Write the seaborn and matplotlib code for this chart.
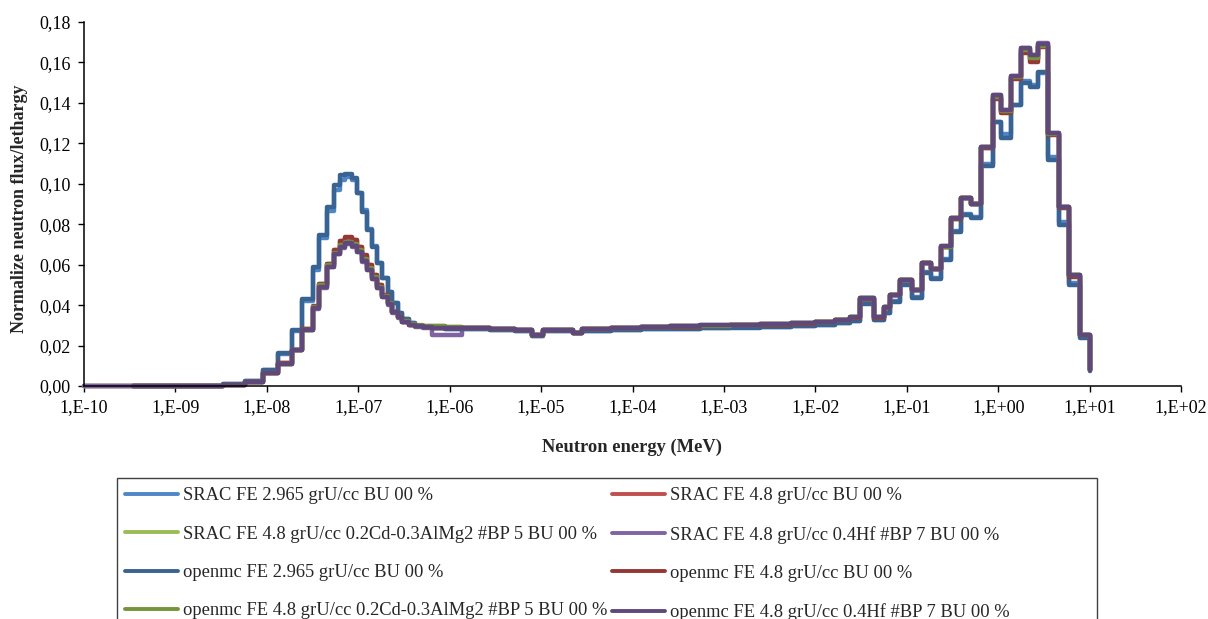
import matplotlib
matplotlib.use('Agg')
import matplotlib.pyplot as plt
from matplotlib.lines import Line2D
from matplotlib.patches import Rectangle
from matplotlib.ticker import FixedLocator, NullLocator, FuncFormatter
import numpy as np
import pandas as pd
import seaborn as sns

# group boundaries, log10(E / MeV); last entry is the 10 MeV end point
log_edges = [-10.00, -9.46, -8.99, -8.48, -8.24, -8.04, -7.88, -7.73, -7.61, -7.50,
             -7.43, -7.34, -7.27, -7.20, -7.14, -7.07, -7.01, -6.96, -6.90, -6.85,
             -6.79, -6.74, -6.68, -6.63, -6.57, -6.52, -6.45, -6.38, -6.29, -6.19,
             -6.05, -5.86, -5.56, -5.28, -5.10, -4.98, -4.65, -4.55, -4.24, -3.91,
             -3.59, -3.26, -2.93, -2.60, -2.27, -2.00, -1.78, -1.62, -1.51, -1.36,
             -1.25, -1.18, -1.07, -0.94, -0.83, -0.74, -0.63, -0.52, -0.41, -0.30,
             -0.19, -0.06, 0.03, 0.14, 0.25, 0.35, 0.44, 0.55, 0.66, 0.77,
             0.90, 1.00]

# normalized flux per lethargy (value of each group, last = end point)
srac_2965 = [0.0, 0.0, 0.0002, 0.001, 0.0027, 0.0078, 0.016, 0.027, 0.042, 0.0575,
             0.073, 0.0865, 0.097, 0.102, 0.1035, 0.102, 0.0955, 0.087, 0.0775, 0.069,
             0.061, 0.0535, 0.0465, 0.041, 0.036, 0.033, 0.031, 0.0298, 0.029, 0.0288,
             0.0283, 0.0281, 0.0276, 0.0271, 0.0249, 0.0271, 0.0261, 0.0273, 0.0277, 0.0281,
             0.0284, 0.0287, 0.029, 0.0293, 0.0297, 0.0304, 0.0313, 0.0323, 0.0408, 0.0328,
             0.0363, 0.042, 0.0503, 0.0438, 0.0562, 0.0533, 0.0628, 0.0765, 0.085, 0.0835,
             0.110, 0.1306, 0.1245, 0.139, 0.151, 0.149, 0.155, 0.113, 0.081, 0.051,
             0.024, 0.0076]
srac_48 = [0.0, 0.0, 0.0001, 0.0005, 0.002, 0.0066, 0.0113, 0.018, 0.028, 0.0393,
           0.0502, 0.0602, 0.0672, 0.0715, 0.0733, 0.072, 0.0688, 0.0645, 0.0597, 0.0547,
           0.0498, 0.045, 0.041, 0.0367, 0.034, 0.0317, 0.0303, 0.0296, 0.0291, 0.029,
           0.0288, 0.0285, 0.028, 0.0275, 0.025, 0.0275, 0.0262, 0.028, 0.0285, 0.029,
           0.0294, 0.0298, 0.0301, 0.0304, 0.0309, 0.0317, 0.0327, 0.0338, 0.0432, 0.0338,
           0.0388, 0.0448, 0.0522, 0.0473, 0.0607, 0.0578, 0.0688, 0.0828, 0.0928, 0.0898,
           0.1178, 0.1425, 0.1355, 0.1525, 0.1655, 0.1615, 0.168, 0.1245, 0.0883, 0.0546,
           0.0251, 0.0079]
srac_cd = [0.0, 0.0, 0.0001, 0.0005, 0.002, 0.0065, 0.0111, 0.0178, 0.0278, 0.0388,
           0.0495, 0.0595, 0.066, 0.0695, 0.071, 0.0698, 0.0672, 0.0625, 0.058, 0.0535,
           0.049, 0.0445, 0.0408, 0.0368, 0.0342, 0.0322, 0.0308, 0.0301, 0.0298, 0.0296,
           0.0294, 0.0288, 0.0281, 0.0275, 0.025, 0.0275, 0.0262, 0.028, 0.0285, 0.029,
           0.0295, 0.0299, 0.0302, 0.0305, 0.031, 0.0318, 0.0328, 0.034, 0.0434, 0.034,
           0.0389, 0.0449, 0.0523, 0.0474, 0.0609, 0.0579, 0.0689, 0.0829, 0.0929, 0.0899,
           0.118, 0.143, 0.136, 0.1528, 0.166, 0.162, 0.168, 0.1248, 0.0885, 0.0548,
           0.0252, 0.0079]
srac_hf = [0.0, 0.0, 0.0001, 0.0005, 0.002, 0.0063, 0.0109, 0.0176, 0.0275, 0.0382,
           0.0487, 0.0587, 0.0652, 0.0682, 0.0702, 0.0688, 0.0662, 0.0615, 0.0572, 0.0528,
           0.0483, 0.0438, 0.0403, 0.0363, 0.0338, 0.0316, 0.03, 0.0293, 0.0288, 0.025,
           0.025, 0.0285, 0.028, 0.0275, 0.025, 0.0275, 0.0262, 0.028, 0.0285, 0.029,
           0.0295, 0.03, 0.0302, 0.0305, 0.031, 0.0318, 0.0328, 0.034, 0.0435, 0.034,
           0.039, 0.045, 0.0524, 0.0475, 0.061, 0.058, 0.069, 0.083, 0.093, 0.090,
           0.1182, 0.1437, 0.1366, 0.1534, 0.1672, 0.1638, 0.1695, 0.1252, 0.0887, 0.055,
           0.0252, 0.0079]
openmc_2965 = [None, 0.0, 0.0002, 0.001, 0.0027, 0.008, 0.0165, 0.0277, 0.043, 0.059,
               0.0747, 0.0886, 0.0994, 0.1043, 0.105, 0.1027, 0.0954, 0.086, 0.077, 0.0687,
               0.0607, 0.0534, 0.0465, 0.041, 0.036, 0.033, 0.031, 0.0298, 0.029, 0.0288,
               0.0282, 0.028, 0.0275, 0.027, 0.0248, 0.027, 0.026, 0.0272, 0.0276, 0.028,
               0.0283, 0.0286, 0.0289, 0.0292, 0.0296, 0.0303, 0.0312, 0.0322, 0.0405, 0.0325,
               0.036, 0.0417, 0.050, 0.0435, 0.0558, 0.053, 0.0623, 0.076, 0.0845, 0.083,
               0.109, 0.1306, 0.1226, 0.1389, 0.1497, 0.148, 0.1553, 0.1117, 0.0796, 0.050,
               0.0237, 0.0075]
openmc_48 = [None, 0.0, 0.0001, 0.0005, 0.002, 0.0066, 0.0113, 0.018, 0.028, 0.0395,
             0.0505, 0.0605, 0.0675, 0.0718, 0.0736, 0.0721, 0.0689, 0.0647, 0.0598, 0.0548,
             0.0499, 0.045, 0.041, 0.0367, 0.034, 0.0316, 0.0302, 0.0295, 0.029, 0.0289,
             0.0287, 0.0285, 0.028, 0.0275, 0.025, 0.0275, 0.0262, 0.028, 0.0285, 0.029,
             0.0294, 0.0298, 0.0301, 0.0304, 0.0309, 0.0317, 0.0327, 0.0338, 0.0432, 0.0338,
             0.0388, 0.0448, 0.0522, 0.0473, 0.0607, 0.0578, 0.0688, 0.0828, 0.0928, 0.0898,
             0.1175, 0.142, 0.135, 0.152, 0.1645, 0.160, 0.1675, 0.124, 0.088, 0.054,
             0.025, 0.0079]
openmc_cd = [None, 0.0, 0.0001, 0.0005, 0.002, 0.0065, 0.0111, 0.0178, 0.0278, 0.039,
             0.0497, 0.0597, 0.066, 0.0695, 0.071, 0.070, 0.0675, 0.0628, 0.0582, 0.0537,
             0.0491, 0.0446, 0.0408, 0.0367, 0.0341, 0.032, 0.0306, 0.0299, 0.0296, 0.0295,
             0.0293, 0.0287, 0.0281, 0.0275, 0.025, 0.0275, 0.0262, 0.028, 0.0285, 0.029,
             0.0295, 0.0299, 0.0302, 0.0305, 0.031, 0.0318, 0.0328, 0.034, 0.0434, 0.034,
             0.0389, 0.0449, 0.0523, 0.0474, 0.0609, 0.0579, 0.0689, 0.0829, 0.0929, 0.0899,
             0.118, 0.143, 0.136, 0.1528, 0.166, 0.162, 0.168, 0.1248, 0.0885, 0.0548,
             0.0252, 0.0079]
openmc_hf = [None, 0.0, 0.0001, 0.0005, 0.002, 0.0064, 0.011, 0.0178, 0.0277, 0.0385,
             0.049, 0.059, 0.0655, 0.0685, 0.0705, 0.069, 0.0665, 0.0617, 0.0575, 0.053,
             0.0485, 0.044, 0.0405, 0.0365, 0.034, 0.0318, 0.0302, 0.0295, 0.029, 0.0289,
             0.0287, 0.0285, 0.028, 0.0275, 0.025, 0.0275, 0.0262, 0.028, 0.0285, 0.029,
             0.0295, 0.030, 0.0302, 0.0305, 0.031, 0.0318, 0.0328, 0.034, 0.0435, 0.034,
             0.039, 0.045, 0.0524, 0.0475, 0.061, 0.058, 0.069, 0.083, 0.093, 0.090,
             0.118, 0.1437, 0.1364, 0.1532, 0.167, 0.1636, 0.1693, 0.125, 0.0886, 0.0549,
             0.0252, 0.0079]

series_names = ['SRAC FE 2.965 grU/cc BU 00 %',
                'SRAC FE 4.8 grU/cc BU 00 %',
                'SRAC FE 4.8 grU/cc 0.2Cd-0.3AlMg2 #BP 5 BU 00 %',
                'SRAC FE 4.8 grU/cc 0.4Hf #BP 7 BU 00 %',
                'openmc FE 2.965 grU/cc BU 00 %',
                'openmc FE 4.8 grU/cc BU 00 %',
                'openmc FE 4.8 grU/cc 0.2Cd-0.3AlMg2 #BP 5 BU 00 %',
                'openmc FE 4.8 grU/cc 0.4Hf #BP 7 BU 00 %']
series_values = [srac_2965, srac_48, srac_cd, srac_hf,
                 openmc_2965, openmc_48, openmc_cd, openmc_hf]
colors = ['#4f86c6', '#c0504d', '#9bbb59', '#8064a2',
          '#386393', '#953735', '#77933c', '#5f497a']

x_ticks = list(range(-10, 3))
y_ticks = [0.0, 0.02, 0.04, 0.06, 0.08, 0.10, 0.12, 0.14, 0.16, 0.18]

# long-form table
energy = [10.0 ** e for e in log_edges]
frames = []
for name, vals in zip(series_names, series_values):
    d = pd.DataFrame({'energy': energy, 'flux': vals, 'series': name})
    frames.append(d.dropna())
df = pd.concat(frames, ignore_index=True)
df['flux'] = df['flux'].astype(float)

sns.set_style('ticks')
plt.rcParams['font.family'] = ['Liberation Serif', 'DejaVu Serif']

fig = plt.figure(figsize=(12.08, 6.19), dpi=100)
ax = fig.add_axes([84 / 1208, 1 - 386 / 619, 1097 / 1208, 364 / 619])

sns.lineplot(data=df, x='energy', y='flux', hue='series', hue_order=series_names,
             palette=colors, estimator=None, errorbar=None, legend=False,
             drawstyle='steps-post', linewidth=3.2, solid_joinstyle='round',
             clip_on=False, ax=ax)

ax.set_xscale('log')
ax.set_xlim(1e-10, 1e2)
ax.set_ylim(0, 0.18)
ax.xaxis.set_major_locator(FixedLocator([10.0 ** k for k in x_ticks]))
ax.xaxis.set_minor_locator(NullLocator())
ax.set_xticklabels([f'1,E{k:+03d}' for k in x_ticks])
ax.set_yticks(y_ticks)
ax.yaxis.set_major_formatter(FuncFormatter(lambda v, p: f'{v:.2f}'.replace('.', ',')))
ax.tick_params(axis='both', direction='out', length=4.5, width=1.0, color='black',
               labelsize=13, labelcolor='black', pad=5)

sns.despine(ax=ax)
for s in ['left', 'bottom']:
    ax.spines[s].set_color('black')
    ax.spines[s].set_linewidth(1.1)

ax.set_xlabel('Neutron energy (MeV)', fontsize=13.3, fontweight='bold')
ax.xaxis.set_label_coords(0.5, -0.145)
ax.set_ylabel('Normalize neutron flux/lethargy', fontsize=13, fontweight='bold')
ax.yaxis.set_label_coords(-0.051, 0.486)

# legend: Excel-style box, rows read left to right
handles = [Line2D([], [], color=c, lw=2.8) for c in colors]
col1 = [0, 2, 4, 6]
col2 = [1, 3, 5, 7]
leg_kw = dict(loc='upper left', frameon=False, fontsize=13.3, handlelength=2.85,
              handletextpad=0.27, labelspacing=1.15, borderpad=0, borderaxespad=0)
leg1 = fig.legend([handles[i] for i in col1], [series_names[i] for i in col1],
                  bbox_to_anchor=(125 / 1208, 1 - 487.5 / 619), **leg_kw)
leg2 = fig.legend([handles[i] for i in col2], [series_names[i] for i in col2],
                  bbox_to_anchor=(612 / 1208, 1 - 487.5 / 619), **leg_kw)
fig.patches.append(Rectangle((117 / 1208, -30 / 619), 980 / 1208, (619 - 478 + 30) / 619,
                             transform=fig.transFigure, fill=False,
                             edgecolor='#404040', linewidth=1.0))

fig.savefig('out.png', dpi=100)
